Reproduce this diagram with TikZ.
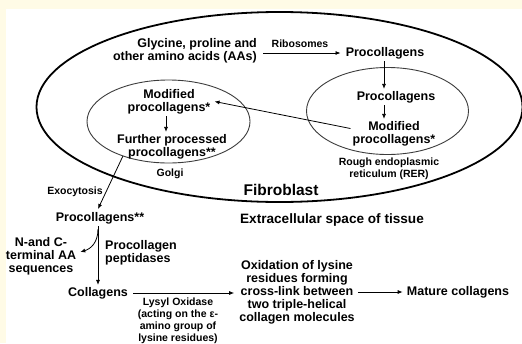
\documentclass[tikz,border=0pt]{standalone}
\usepackage{fontspec}
\setmainfont{Liberation Sans}
\usetikzlibrary{arrows.meta,calc}
\definecolor{cream}{RGB}{255,251,230}
\definecolor{inkgray}{RGB}{60,60,60}
\tikzset{
  main/.style={font=\fontsize{12.5}{13}\selectfont\bfseries, align=center, inner sep=2pt, text=black},
  small/.style={font=\fontsize{10.5}{12}\selectfont\bfseries, align=center, inner sep=1pt, text=black},
  bigl/.style={font=\fontsize{15.5}{17}\selectfont\bfseries, inner sep=1pt, text=black},
  bigm/.style={font=\fontsize{13.6}{15}\selectfont\bfseries, inner sep=1pt, text=black},
  arr/.style={draw=black, line width=0.8pt, -{Latex[length=5pt,width=4pt]}},
  cell/.style={draw=black, line width=1.8pt},
  organelle/.style={draw=inkgray, line width=0.9pt}
}
\begin{document}
\begin{tikzpicture}[x=1pt,y=-1pt]
\useasboundingbox (0,0) rectangle (522,343);
\clip (0,0) rectangle (522,343);
\fill[white] (0,0) rectangle (522,343);
\fill[cream] (0,0) rectangle (522,9);
\fill[cream] (0,0) rectangle (6,343);

% membranes
\draw[cell] (279.5,107) ellipse [x radius=243, y radius=95];
\draw[organelle] (168.5,121.5) ellipse [x radius=81.5, y radius=41.5];
\draw[organelle] (387.5,111) ellipse [x radius=81, y radius=43.5];

% nodes
\node[main, anchor=east, align=right] (gly) at (259,51) {Glycine, proline and\\other amino acids (AAs)};
\node[small] (ribo) at (300,44) {Ribosomes};
\node[main] (proc1) at (385,53) {Procollagens};
\node[main] (proc2) at (396,97) {Procollagens};
\node[main] (modrer) at (394,133.5) {Modified\\procollagens*};
\node[main] (modg) at (169,101.5) {Modified\\procollagens*};
\node[main] (further) at (172,146.5) {Further processed\\procollagens**};
\node[small] (golgi) at (170,174) {Golgi};
\node[small] (rer) at (389,169) {Rough endoplasmic\\reticulum (RER)};
\node[bigl] (fibro) at (281,190) {Fibroblast};
\node[bigm] (extra) at (332,220) {Extracellular space of tissue};
\node[small] (exo) at (75,192) {Exocytosis};
\node[main] (proc3) at (100,218) {Procollagens**};
\node[main] (nc) at (41,256) {N-and C-\\terminal AA\\sequences};
\node[main, anchor=west, align=left] (pept) at (103,253) {Procollagen\\peptidases};
\node[main] (coll) at (98,293) {Collagens};
\node[small] (lysyl) at (178,321) {Lysyl Oxidase\\(acting on the ε-\\amino group of\\lysine residues)};
\node[main] (oxid) at (297,292) {Oxidation of lysine\\residues forming\\cross-link between\\two triple-helical\\collagen molecules};
\node[main] (mature) at (458,292) {Mature collagens};

% connectors
\draw[arr, shorten <=4pt, shorten >=3pt] (gly.east |- proc1.west) -- (proc1.west);
\draw[arr] (proc1.south) ++(-1,0) coordinate (p1s) -- (p1s |- proc2.north);
\draw[arr] (p1s |- proc2.south) -- (p1s |- modrer.north);
\draw[arr] ($(modrer.west)+(0,-5)$) -- ($(modg.east)+(2,0)$);
\draw[arr] (modg.south) ++(-3,0) coordinate (mgs) -- (mgs |- further.north);
\coordinate (exostart) at ($(further.south west)+(8,-5)$);
\draw[arr] (exostart) -- ($(proc3.north)+(-2,-1)$);
\coordinate (vtop) at (proc3.south -| coll.north);
\draw[arr] (vtop) -- (coll.north);
\coordinate (br) at ($(vtop)+(0,3)$);
\coordinate (brend) at ($(nc.east)+(2,-4)$);
\draw[arr] (br) .. controls ($(br)+(0,14)$) and ($(brend)+(10,-3)$) .. (brend);
\draw[arr, shorten <=3pt, shorten >=3pt] (coll.east) -- (coll.east -| oxid.west);
\draw[arr, shorten <=1pt, shorten >=2pt] (oxid.east |- mature.west) -- (mature.west);
\end{tikzpicture}
\end{document}
